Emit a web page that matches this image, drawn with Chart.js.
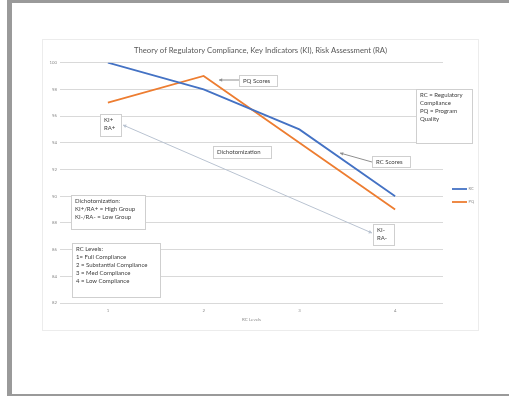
<!DOCTYPE html>
<html>
<head>
<meta charset="utf-8">
<script src="https://cdn.jsdelivr.net/npm/chart.js@4/dist/chart.umd.min.js"></script>
<style>
  html, body { margin: 0; padding: 0; background: #ffffff; }
  body { width: 509px; height: 396px; position: relative; overflow: hidden; }
  #frame {
    position: absolute; left: 7px; top: 0; width: 502px; height: 396px;
    box-sizing: border-box;
    border-left: 5px solid #9a9a9a; border-top: 3px solid #9a9a9a; border-bottom: 2px solid #9a9a9a;
  }
  #card {
    position: absolute; left: 42px; top: 39px; width: 437px; height: 292px;
    box-sizing: border-box; border: 1px solid #ececec; background: #fff;
  }
  #chart { position: absolute; left: 43px; top: 40px; }
</style>
</head>
<body>
<div id="frame"></div>
<div id="card"></div>
<canvas id="chart" width="435" height="290"></canvas>
<script>
// Compliance levels on the horizontal axis
const levels = ['1', '2', '3', '4'];
// Regulatory compliance scores per level
const rcScores = [100, 98, 95, 90];
// Program quality scores per level
const pqScores = [97, 99, 94, 89];
const seriesNames = ['RC', 'PQ'];
const yTicks = { min: 82, max: 100, step: 2 };

const FONT = 'Lato, "Open Sans", "Liberation Sans", sans-serif';

// Text boxes placed on top of the plot (canvas pixels)
const noteBoxes = [
  { x: 196, y: 35, w: 38, h: 11, lines: ['PQ Scores'] },
  { x: 373, y: 49, w: 56, h: 54, lines: ['RC = Regulatory', 'Compliance', 'PQ = Program', 'Quality'] },
  { x: 57, y: 74, w: 21, h: 22, lines: ['KI+', 'RA+'] },
  { x: 170, y: 106, w: 58, h: 12, lines: ['Dichotomization'] },
  { x: 329, y: 116, w: 38, h: 11, lines: ['RC Scores'] },
  { x: 330, y: 184, w: 21, h: 21, lines: ['KI-', 'RA-'] },
  { x: 28, y: 155, w: 74, h: 34, lines: ['Dichotomization:', 'KI+/RA+ = High Group', 'KI-/RA- = Low Group'] },
  { x: 29, y: 203, w: 88, h: 54, lines: ['RC Levels:', '1= Full Compliance', '2 = Substantial Compliance', '3 = Med Compliance', '4 = Low Compliance'] }
];

// Connector arrows (canvas pixels)
const connectors = [
  { from: [196, 40], to: [176, 40], color: '#8f8f8f', heads: ['end'] },
  { from: [329, 122], to: [297, 113], color: '#8f8f8f', heads: ['end'] },
  { from: [329, 193], to: [80, 85], color: '#b9c3d1', heads: ['start', 'end'] }
];

function arrowHead(ctx, x1, y1, x2, y2, color) {
  const a = Math.atan2(y2 - y1, x2 - x1);
  const L = 3.2, W = 1.8;
  ctx.save();
  ctx.translate(x2, y2);
  ctx.rotate(a);
  ctx.beginPath();
  ctx.moveTo(0, 0);
  ctx.lineTo(-L, -W);
  ctx.lineTo(-L, W);
  ctx.closePath();
  ctx.fillStyle = color;
  ctx.fill();
  ctx.restore();
}

const overlayPlugin = {
  id: 'overlay',
  afterDraw(chart) {
    const ctx = chart.ctx;
    ctx.save();
    // connectors
    connectors.forEach(c => {
      ctx.strokeStyle = c.color;
      ctx.lineWidth = 1;
      ctx.beginPath();
      ctx.moveTo(c.from[0], c.from[1]);
      ctx.lineTo(c.to[0], c.to[1]);
      ctx.stroke();
      if (c.heads.includes('end')) arrowHead(ctx, c.from[0], c.from[1], c.to[0], c.to[1], c.color);
      if (c.heads.includes('start')) arrowHead(ctx, c.to[0], c.to[1], c.from[0], c.from[1], c.color);
    });
    // text boxes
    ctx.font = '6px ' + FONT;
    ctx.textBaseline = 'middle';
    ctx.textAlign = 'left';
    noteBoxes.forEach(b => {
      ctx.fillStyle = '#ffffff';
      ctx.fillRect(b.x, b.y, b.w, b.h);
      ctx.strokeStyle = '#cfcfcf';
      ctx.lineWidth = 1;
      ctx.strokeRect(b.x + 0.5, b.y + 0.5, b.w, b.h);
      ctx.fillStyle = '#404040';
      b.lines.forEach((t, i) => ctx.fillText(t, b.x + 4, b.y + 6.5 + i * 8));
    });
    // legend in the right-hand gutter, taken from the datasets
    const area = chart.chartArea;
    ctx.font = '4px ' + FONT;
    chart.data.datasets.forEach((ds, i) => {
      const y = 149 + i * 13;
      const x0 = area.right + 9;
      ctx.strokeStyle = ds.borderColor;
      ctx.lineWidth = 1.8;
      ctx.beginPath();
      ctx.moveTo(x0, y);
      ctx.lineTo(x0 + 15, y);
      ctx.stroke();
      ctx.fillStyle = '#8c8c8c';
      ctx.fillText(ds.label, x0 + 16.5, y);
    });
    ctx.restore();
  }
};

new Chart(document.getElementById('chart'), {
  type: 'line',
  data: {
    labels: levels,
    datasets: [
      { label: seriesNames[0], data: rcScores, borderColor: '#4472c4', backgroundColor: '#4472c4',
        borderWidth: 1.8, pointRadius: 0, tension: 0 },
      { label: seriesNames[1], data: pqScores, borderColor: '#ed7d31', backgroundColor: '#ed7d31',
        borderWidth: 1.8, pointRadius: 0, tension: 0 }
    ]
  },
  options: {
    responsive: false,
    devicePixelRatio: 1,
    animation: false,
    layout: { padding: 0 },
    plugins: {
      legend: { display: false },
      tooltip: { enabled: false },
      title: {
        display: true,
        text: 'Theory of Regulatory Compliance, Key Indicators (KI), Risk Assessment (RA)',
        color: '#595959',
        font: { family: FONT, size: 7.7, weight: 'normal' },
        padding: { top: 6, bottom: 7.4 }
      }
    },
    scales: {
      x: {
        type: 'category',
        offset: true,
        grid: { display: false, drawTicks: false },
        border: { display: false },
        ticks: { color: '#8c8c8c', font: { family: FONT, size: 4.3 }, padding: 5, maxRotation: 0 },
        title: { display: true, text: 'RC Levels', color: '#8c8c8c', font: { family: FONT, size: 4.5 }, padding: { top: 1, bottom: 8 } },
        afterFit(scale) { scale.height = 27; }
      },
      y: {
        min: yTicks.min,
        max: yTicks.max,
        border: { display: false },
        grid: { color: '#d9d9d9', lineWidth: 1, drawTicks: false },
        ticks: { stepSize: yTicks.step, color: '#8c8c8c', font: { family: FONT, size: 4.3 }, padding: 3 },
        afterFit(scale) { scale.width = 17; }
      },
      // empty right-hand gutter that holds the series key
      gutter: {
        type: 'linear',
        position: 'right',
        display: true,
        grid: { display: false, drawTicks: false },
        border: { display: false },
        ticks: { display: false },
        afterFit(scale) { scale.width = 35; }
      }
    }
  },
  plugins: [overlayPlugin]
});
</script>
</body>
</html>
